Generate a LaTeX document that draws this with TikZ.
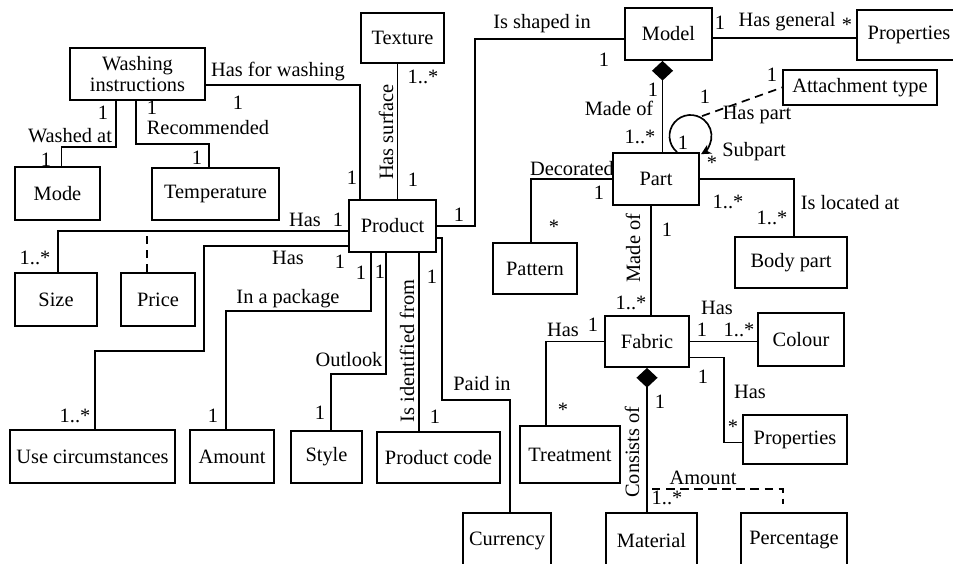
\documentclass[tikz,border=0pt]{standalone}
\usepackage{fontspec}
\setmainfont{Liberation Serif}
\usepackage{tikz}
\usetikzlibrary{calc}
\usetikzlibrary{arrows.meta}
\tikzstyle{entity}=[draw, line width=1.3pt, inner sep=0pt, align=center]
\tikzstyle{lbl}=[inner sep=0pt]
\tikzstyle{assoc}=[dash pattern=on 6pt off 4pt]
\tikzstyle{comp}=[{Diamond[length=14pt,width=15pt]}-]

\begin{document}
\begin{tikzpicture}[x=0.025cm, y=-0.025cm, line width=1.2pt, font=\fontsize{14.5}{15}\selectfont]

  \useasboundingbox (0,0) rectangle (953,564);
  \draw[fill=white,draw=white] (0,0) rectangle (953,564);

  \def\pxl{0.025cm}
  % classes
  \foreach \pos/\name/\w/\h/\txt in {{(137.5,74)/wash/135/52/Washing\\instructions}, {(402.5,38)/texture/83/50/Texture},
      {(57.5,193.5)/mode/85/53/Mode}, {(215.5,194)/temp/127/52/Temperature}, {(392.5,226)/product/87/52/Product},
      {(56,299.5)/size/82/53/Size}, {(158,299.5)/price/74/53/Price}, {(668.5,34)/model/87/52/Model},
      {(909,35)/propgen/104/50/Properties}, {(860,87.5)/attach/154/35/Attachment type}, {(656,179)/part/86/52/Part},
      {(535,268.5)/pattern/84/51/Pattern}, {(791,262.5)/bodypart/112/51/Body part}, {(647,341.5)/fabric/84/51/Fabric},
      {(801,339.5)/colour/86/53/Colour}, {(795,439.5)/propfab/104/49/Properties}, {(570,454.5)/treatment/100/57/Treatment},
      {(507,540.5)/currency/88/55/Currency}, {(651.5,540.5)/material/91/55/Material}, {(794,540.5)/percentage/106/55/Percentage},
      {(92.5,456.5)/usecirc/165/53/Use circumstances}, {(232,456.5)/amount/84/53/Amount}, {(326.5,457)/style/71/52/Style},
      {(438.5,457.5)/pcode/123/51/Product code}}
    \node[entity, minimum width=\w*\pxl, minimum height=\h*\pxl] (\name) at \pos {\txt};

  % associations
  \draw ($(wash.east)+(0,11)$) -| ($(product.north west)+(12,0)$);
  \draw ($(texture.south)+(-5,0)$) coordinate (t1) -- (t1 |- product.north);
  \draw ($(wash.south west)+(47,0)$) -- ++(0,46) -| ($(mode.north)+(4,0)$);
  \draw ($(wash.south west)+(67,0)$) -- ++(0,43) -| ($(temp.north west)+(58,0)$);
  \draw ($(product.west)+(0,5)$) -| ($(size.north)+(2,0)$);
  \draw[assoc] ($(price.north)+(-11,0)$) coordinate (p1) -- ($(p1)+(0,-38)$);
  \draw ($(product.west)+(0,20)$) -- ++(-144,0) -- ++(0,105) -| ($(usecirc.north)+(2.5,0)$);
  \draw ($(product.south west)+(23,0)$) -- ++(0,58) -| ($(amount.north)+(-6,0)$);
  \draw ($(product.south west)+(38,0)$) -- ++(0,121) -| ($(style.north)+(4.5,0)$);
  \draw ($(product.south west)+(71,0)$) coordinate (c1) -- (c1 |- pcode.north);
  \draw ($(product.east)+(0,12)$) -| ++(5,162) -| ($(currency.north)+(3,0)$);
  \draw (product.east) -| ($(model.west)+(-149,5)$) -- ($(model.west)+(0,5)$);
  \draw ($(model.east)+(0,4)$) coordinate (m1) -- (m1 -| propgen.west);
  \draw[comp] ($(model.south)+(-6,0)$) coordinate (m2) -- (m2 |- part.north);
  \draw[-{Stealth[length=7pt,width=7pt]}] ($(part.north)+(21,0)$) arc[start angle=130, end angle=420, radius=21];
  \draw[assoc] ($(part.north)+(46,-36)$) -- (attach.west);
  \draw (part.west) -| ($(pattern.north)+(-4,0)$);
  \draw (part.east) -| ($(bodypart.north)+(3,0)$);
  \draw ($(part.south)+(-5,0)$) coordinate (p2) -- (p2 |- fabric.north);
  \draw (fabric.west) -| ($(treatment.north)+(-24,0)$);
  \draw (fabric.east) -- (fabric.east -| colour.west);
  \draw ($(fabric.east)+(0,16)$) -| ($(propfab.west)+(-18,3)$) -- ($(propfab.west)+(0,3)$);
  \draw[comp] (fabric.south) -- (fabric.south |- material.north);
  \draw[assoc] ($(fabric.south)+(5,121)$) -| ($(percentage.north)+(-11,-8)$);

  % role names and multiplicities
  \foreach \pos/\name/\txt in {{(278,72)/lwashing/Has for washing}, {(238,103)/mwashing1/1}, {(352,178)/mwashing2/1},
      {(423,77)/msurface1/1..*}, {(413,180)/msurface2/1}, {(103,113)/mmode1/1}, {(70,136)/lmode/Washed at},
      {(46,160)/mmode2/1}, {(152,108)/mtemp1/1}, {(208,128)/ltemp/Recommended}, {(197,158)/mtemp2/1},
      {(305,220)/lsize/Has}, {(338,220)/msize1/1}, {(35,258)/msize2/1..*}, {(288,258)/luse/Has}, {(340,262)/muse1/1},
      {(75,416)/muse2/1..*}, {(288,299)/lamount/In a package}, {(361,273)/mamount1/1}, {(213,416)/mamount2/1},
      {(349,360)/lstyle/Outlook}, {(380,272)/mstyle1/1}, {(320,413)/mstyle2/1}, {(432,277)/mcode1/1},
      {(435,417)/mcode2/1}, {(482,384)/lcurrency/Paid in}, {(459,215)/mmodel1/1}, {(542,24)/lmodel/Is shaped in},
      {(604,60)/mmodel2/1}, {(720,23)/mgeneral1/1}, {(787,22)/lgeneral/Has general}, {(847,25)/mgeneral2/*},
      {(653,90)/mmadeof1/1}, {(619,108)/lmadeof/Made of}, {(640,137)/mmadeof2/1..*}, {(705,97)/mhaspart/1},
      {(757,115)/lhaspart/Has part}, {(754,152)/lsubpart/Subpart}, {(712,163)/msubpart/*}, {(683,143)/mloop/1},
      {(772,75)/mattach/1}, {(572,169)/ldecorated/Decorated}, {(599,193)/mpattern1/1}, {(554,227)/mpattern2/*},
      {(728,202)/mbody1/1..*}, {(772,218)/mbody2/1..*}, {(850,203)/lbody/Is located at}, {(667,230)/mfabric1/1},
      {(631,303)/mfabric2/1..*}, {(563,330)/ltreat/Has}, {(593,325)/mtreat1/1}, {(563,410)/mtreat2/*},
      {(717,308)/lcolour/Has}, {(702,330)/mcolour1/1}, {(739,330)/mcolour2/1..*}, {(703,377)/mprops1/1},
      {(750,392)/lprops/Has}, {(733,427)/mprops2/*}, {(660,402)/mmaterial1/1}, {(703,478)/lpercent/Amount},
      {(667,498)/mmaterial2/1..*}}
    \node[lbl] (\name) at \pos {\txt};

  \node[lbl, rotate=90] (lsurface) at (386,132) {Has surface};
  \node[lbl, rotate=90] (lcode) at (407,351) {Is identified from};
  \node[lbl, rotate=90] (lfabric) at (633,248) {Made of};
  \node[lbl, rotate=90] (lmaterial) at (632,452) {Consists of};

\end{tikzpicture}
\end{document}
